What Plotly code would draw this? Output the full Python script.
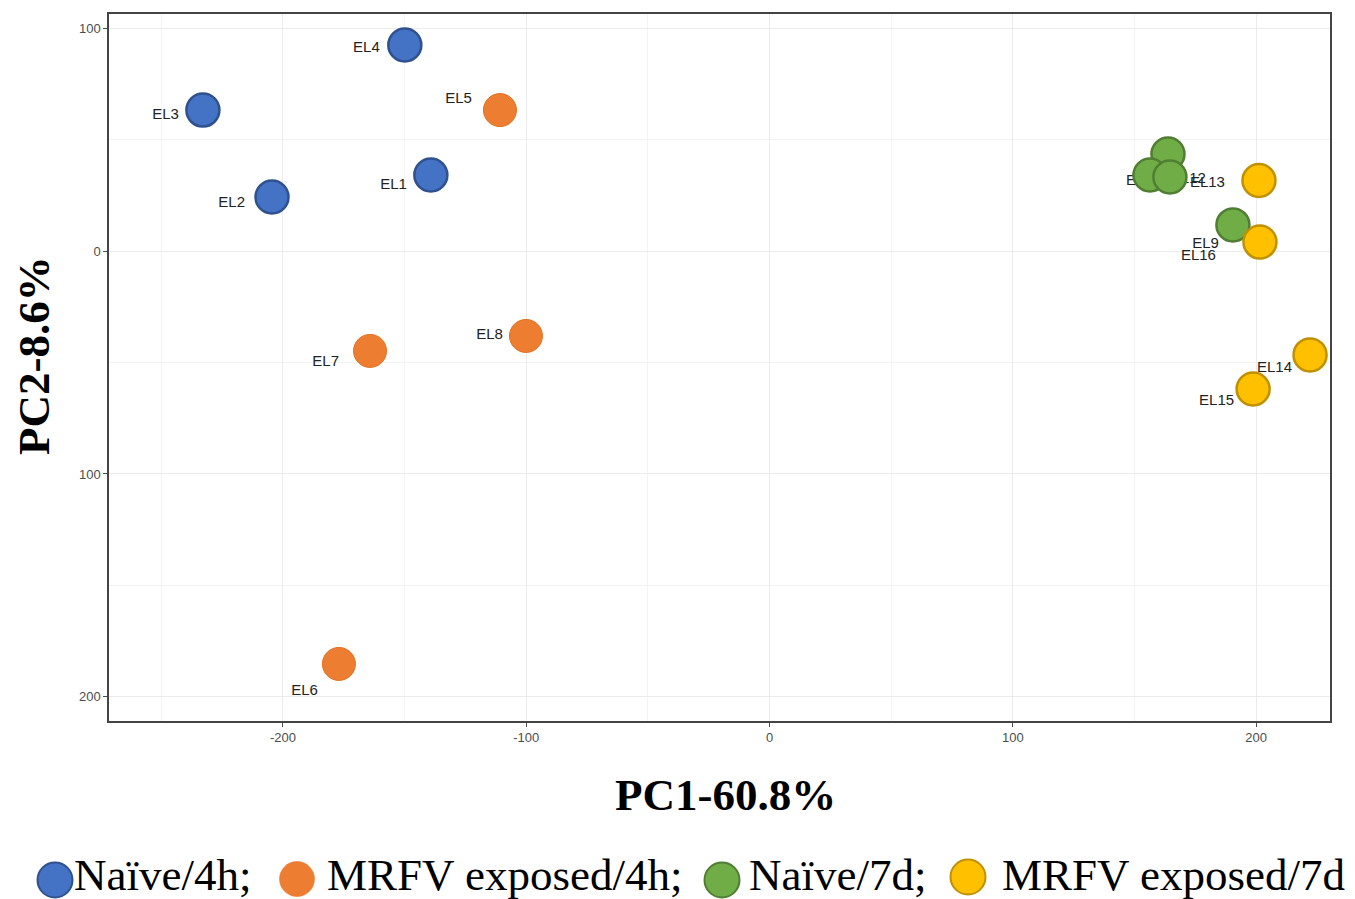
import plotly.graph_objects as go

# ---------------- data ----------------
groups = ["Naïve/4h;", "MRFV exposed/4h;", "Naïve/7d;", "MRFV exposed/7d"]

naive4h_labels = ["EL1", "EL2", "EL3", "EL4"]
naive4h_pc1 = [-139.2, -204.5, -232.9, -149.9]
naive4h_pc2 = [34.1, 24.2, 63.2, 92.4]

mrfv4h_labels = ["EL5", "EL6", "EL7", "EL8"]
mrfv4h_pc1 = [-110.8, -177.0, -164.2, -100.1]
mrfv4h_pc2 = [63.2, -185.2, -44.8, -38.1]

naive7d_labels = ["EL9", "EL10", "EL11", "EL12"]
naive7d_pc1 = [190.5, 163.8, 156.4, 164.6]
naive7d_pc2 = [11.7, 43.5, 34.1, 33.2]

mrfv7d_labels = ["EL13", "EL14", "EL15", "EL16"]
mrfv7d_pc1 = [201.2, 222.2, 198.8, 201.6]
mrfv7d_pc2 = [31.6, -46.6, -61.9, 4.0]

x_tickvals = [-200, -100, 0, 100, 200]
x_ticktext = ["-200", "-100", "0", "100", "200"]
y_tickvals = [100, 0, -100, -200]
y_ticktext = ["100", "0", "100", "200"]

x_title = "PC1-60.8%"
y_title = "PC2-8.6%"

# ---------------- styling ----------------
OFF = 8  # page body margin
PAGE_W, PAGE_H = 1355, 899
W, H = PAGE_W - OFF, PAGE_H - OFF
# plot area in page pixels: x 109..1330, y 14..721
ML = 109 - OFF
MT = 14 - OFF
MR = W - (1330 - OFF)
MB = H - (721 - OFF)
XR = [-271.5, 230.4]
YR = [-210.8, 106.3]
plot_w = W - ML - MR
plot_h = H - MT - MB
px_x = plot_w / (XR[1] - XR[0])
px_y = plot_h / (YR[1] - YR[0])

fills = ["#4472C4", "#ED7D31", "#70AD47", "#FFC000"]
borders = ["#2F528F", "#E2711F", "#507E32", "#BF9000"]
border_w = [2.5, 1, 2.5, 2.5]

# label offsets (pixels, right edge of label relative to point centre; dy up positive)
label_dx = [
    [-24, -27, -24, -25],
    [-28, -21, -31, -23],
    [-14, 17, 10, 36],
    [-34, -18, -19, -44],
]
label_dy = [
    [-10, -6, -5, -3],
    [11, -27, -11, 1],
    [-19, 0, -6, -2],
    [-3, -13, -12, -14],
]

series = [
    (naive4h_labels, naive4h_pc1, naive4h_pc2),
    (mrfv4h_labels, mrfv4h_pc1, mrfv4h_pc2),
    (naive7d_labels, naive7d_pc1, naive7d_pc2),
    (mrfv7d_labels, mrfv7d_pc1, mrfv7d_pc2),
]

fig = go.Figure()

label_font = dict(family="Liberation Sans Narrow, Arial Narrow, Liberation Sans, Arial", size=15, color="#222222")

# text labels drawn first (beneath markers)
for gi, (labs, xs, ys) in enumerate(series):
    tx = [x + dx / px_x for x, dx in zip(xs, label_dx[gi])]
    ty = [y + dy / px_y for y, dy in zip(ys, label_dy[gi])]
    fig.add_trace(go.Scatter(
        x=tx, y=ty, text=labs, mode="text", textposition="middle left",
        textfont=label_font, showlegend=False, hoverinfo="skip"))

for gi, (labs, xs, ys) in enumerate(series):
    fig.add_trace(go.Scatter(
        x=xs, y=ys, mode="markers", name=groups[gi], text=labs,
        marker=dict(size=33, color=fills[gi], line=dict(color=borders[gi], width=border_w[gi])),
        showlegend=False))

# custom legend (circles + text) below plot, page pixel positions
leg_circle_px = [(55, 880), (297, 879), (722, 880), (968, 877)]
leg_text_px = [72, 325, 747, 1000]
leg_text_y = 875
leg_d = 35

def to_paper_x(px):
    return (px - OFF - ML) / plot_w

def to_paper_y(py):
    return (H - MB - (py - OFF)) / plot_h

shapes = []
annotations = []
for gi in range(4):
    cx, cy = leg_circle_px[gi]
    shapes.append(dict(
        type="circle", xref="paper", yref="paper",
        xsizemode="pixel", ysizemode="pixel",
        xanchor=to_paper_x(cx), yanchor=to_paper_y(cy),
        x0=-leg_d / 2, x1=leg_d / 2, y0=-leg_d / 2, y1=leg_d / 2,
        fillcolor=fills[gi], line=dict(color=borders[gi], width=2 if gi != 1 else 0.5),
        layer="above"))
    annotations.append(dict(
        xref="paper", yref="paper", x=to_paper_x(leg_text_px[gi]), y=to_paper_y(leg_text_y),
        xanchor="left", yanchor="middle", showarrow=False, text=groups[gi],
        font=dict(family="Liberation Serif, Times New Roman, serif", size=45, color="#000000")))

title_font = dict(family="Liberation Serif, Times New Roman, serif", size=45, color="#000000")
# axis titles (page pixel centres)
annotations.append(dict(
    xref="paper", yref="paper", x=to_paper_x(725), y=to_paper_y(795),
    xanchor="center", yanchor="middle", showarrow=False,
    text="<b>" + x_title + "</b>", font=title_font))
annotations.append(dict(
    xref="paper", yref="paper", x=to_paper_x(34), y=to_paper_y(356),
    xanchor="center", yanchor="middle", showarrow=False, textangle=-90,
    text="<b>" + y_title + "</b>", font=title_font))

tick_font = dict(family="Liberation Sans Narrow, Arial Narrow, Liberation Sans, Arial", size=13, color="#4d4d4d")

fig.update_layout(
    width=W, height=H,
    margin=dict(l=ML, r=MR, t=MT, b=MB, autoexpand=False),
    plot_bgcolor="white", paper_bgcolor="white",
    shapes=shapes, annotations=annotations,
    showlegend=False,
    xaxis=dict(
        range=XR, tickvals=x_tickvals, ticktext=x_ticktext, tickfont=tick_font,
        ticks="outside", ticklen=4, tickcolor="#4d4d4d", tickwidth=1,
        showgrid=True, gridcolor="#ebebeb", gridwidth=1.2, zeroline=False,
        minor=dict(tickvals=[-250, -150, -50, 50, 150], showgrid=True, gridcolor="#f3f3f3", gridwidth=1, ticks=""),
        showline=True, linecolor="#444444", linewidth=1.5, mirror=True,
        automargin=False,
    ),
    yaxis=dict(
        range=YR, tickvals=y_tickvals, ticktext=y_ticktext, tickfont=tick_font,
        ticks="outside", ticklen=4, tickcolor="#4d4d4d", tickwidth=1,
        showgrid=True, gridcolor="#ebebeb", gridwidth=1.2, zeroline=False,
        minor=dict(tickvals=[50, -50, -150], showgrid=True, gridcolor="#f3f3f3", gridwidth=1, ticks=""),
        showline=True, linecolor="#444444", linewidth=1.5, mirror=True,
        automargin=False,
    ),
)

fig.write_html("out.html")
